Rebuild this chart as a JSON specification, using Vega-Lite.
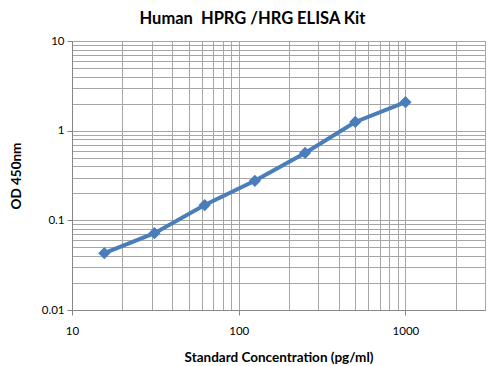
{
  "$schema": "https://vega.github.io/schema/vega-lite/v6.json",
  "width": 413,
  "height": 269,
  "autosize": {"type": "none"},
  "padding": {"left": 72, "top": 41, "right": 12, "bottom": 56},
  "background": "white",
  "title": {
    "text": "Human \u00a0HPRG /HRG ELISA Kit",
    "font": "Lato",
    "fontSize": 16.5,
    "fontWeight": "bold",
    "color": "#000000",
    "anchor": "middle",
    "dx": -26,
    "offset": 8
  },
  "config": {
    "view": {"stroke": "#a0a0a0", "strokeWidth": 1},
    "axis": {
      "labelFont": "Lato",
      "labelFontSize": 11.5,
      "labelColor": "#000000",
      "titleFont": "Lato",
      "titleFontSize": 13.5,
      "titleFontWeight": "bold",
      "titleColor": "#000000",
      "gridColor": "#a6a6a6",
      "gridWidth": 1,
      "gridOpacity": 1,
      "domainColor": "#868686",
      "tickColor": "#868686",
      "tickSize": 5,
      "labelOverlap": false,
      "labelFlush": false
    }
  },
  "data": {
    "values": [
      {"conc": 15.625, "od": 0.043},
      {"conc": 31.25, "od": 0.072},
      {"conc": 62.5, "od": 0.148},
      {"conc": 125, "od": 0.276},
      {"conc": 250, "od": 0.564},
      {"conc": 500, "od": 1.25},
      {"conc": 1000, "od": 2.08}
    ]
  },
  "encoding": {
    "x": {
      "field": "conc",
      "type": "quantitative",
      "scale": {"type": "log", "domain": [10, 3000], "nice": false},
      "axis": {
        "title": "Standard Concentration (pg/ml)",
        "values": [10, 20, 30, 40, 50, 60, 70, 80, 90, 100, 200, 300, 400, 500, 600, 700, 800, 900, 1000, 2000, 3000],
        "format": "~g",
        "labelExpr": "indexof([10,100,1000], datum.value) >= 0 ? datum.label : ''",
        "tickOpacity": {"condition": {"test": "indexof([10,100,1000], datum.value) >= 0", "value": 1}, "value": 0},
        "labelPadding": 10,
        "titlePadding": 14
      }
    },
    "y": {
      "field": "od",
      "type": "quantitative",
      "scale": {"type": "log", "domain": [0.01, 10], "nice": false},
      "axis": {
        "title": "OD 450nm",
        "values": [0.01, 0.02, 0.03, 0.04, 0.05, 0.06, 0.07, 0.08, 0.09, 0.1, 0.2, 0.3, 0.4, 0.5, 0.6, 0.7, 0.8, 0.9, 1, 2, 3, 4, 5, 6, 7, 8, 9, 10],
        "format": "~g",
        "labelExpr": "indexof([0.01,0.1,1,10], datum.value) >= 0 ? datum.label : ''",
        "tickOpacity": {"condition": {"test": "indexof([0.01,0.1,1,10], datum.value) >= 0", "value": 1}, "value": 0},
        "labelPadding": 3,
        "titlePadding": 18
      }
    }
  },
  "layer": [
    {"mark": {"type": "line", "color": "#4a7ebb", "strokeWidth": 4}},
    {"mark": {"type": "point", "shape": "diamond", "filled": true, "opacity": 1, "color": "#4a7ebb", "size": 150}}
  ]
}
